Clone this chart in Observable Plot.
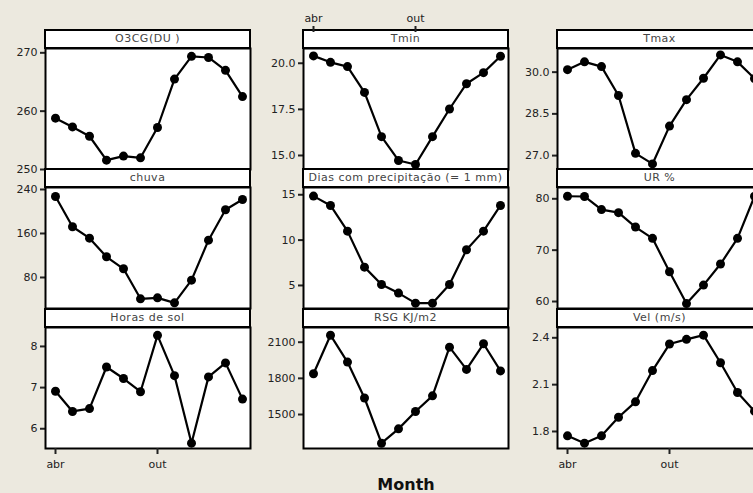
<!DOCTYPE html>
<html><head><meta charset="utf-8">
<script src="https://cdn.jsdelivr.net/npm/d3@7"></script>
<script src="https://cdn.jsdelivr.net/npm/@observablehq/plot@0.6"></script>
<style>
html,body{margin:0;padding:0;background:#ece9df;overflow:hidden;}
#chart{position:relative;width:753px;height:493px;overflow:hidden;font-family:"DejaVu Sans",sans-serif;background:#ece9df;}
.strip{position:absolute;box-sizing:border-box;border:2px solid #000;background:#fff;color:#444;font-size:11px;text-align:center;line-height:16px;letter-spacing:0.5px;white-space:nowrap;overflow:hidden;}
.pnl{position:absolute;}
#xtitle{position:absolute;left:306px;width:200px;top:476px;text-align:center;font-weight:bold;font-size:16px;line-height:18px;color:#111;}
</style></head><body><div id="chart"></div>
<script>
// ---- data ----
const months = ["abr","mai","jun","jul","ago","set","out","nov","dez","jan","fev","mar"];
const xTickLabels = ["abr","out"];
const titles = ["O3CG(DU )","Tmin","Tmax","chuva","Dias com precipitação (= 1 mm)","UR %","Horas de sol","RSG  KJ/m2","Vel (m/s)"];
const o3cg  = [258.8, 257.3, 255.7, 251.6, 252.3, 252.0, 257.2, 265.5, 269.4, 269.2, 267.0, 262.5];
const tmin  = [20.40, 20.05, 19.82, 18.42, 16.02, 14.73, 14.51, 16.02, 17.52, 18.89, 19.49, 20.38];
const tmax  = [30.09, 30.37, 30.20, 29.16, 27.08, 26.70, 28.06, 29.01, 29.78, 30.62, 30.37, 29.77];
const chuva = [227.3, 172.2, 151.5, 117.6, 95.8, 41.2, 43.0, 33.9, 75.1, 147.8, 203.1, 221.8];
const dias  = [14.85, 13.82, 10.99, 7.02, 5.11, 4.16, 3.05, 3.05, 5.11, 8.94, 10.99, 13.82];
const ur    = [80.5, 80.45, 77.9, 77.3, 74.5, 72.3, 65.8, 59.6, 63.2, 67.3, 72.3, 80.5];
const horas = [6.91, 6.42, 6.49, 7.50, 7.22, 6.90, 8.27, 7.29, 5.65, 7.26, 7.60, 6.72];
const rsg   = [1838, 2158, 1935, 1637, 1262, 1381, 1525, 1655, 2059, 1874, 2087, 1862];
const vel   = [1.772, 1.725, 1.772, 1.891, 1.99, 2.19, 2.36, 2.39, 2.417, 2.24, 2.05, 1.93];
const yTicks = [[250,260,270],[15,17.5,20],[27,28.5,30],[80,160,240],[5,10,15],[60,70,80],[6,7,8],[1500,1800,2100],[1.8,2.1,2.4]];

// ---- scale settings ----
const series = [o3cg, tmin, tmax, chuva, dias, ur, horas, rsg, vel];
const yDomains = [[250,270.74],[14.24,20.8],[26.5,30.85],[23.6,243.6],[2.46,15.8],[58.64,82.2],[5.52,8.46],[1218,2222],[1.691,2.466]];
const yFormats = [d3.format("d"), d3.format(".1f"), d3.format(".1f"), d3.format("d"), d3.format("d"), d3.format("d"), d3.format("d"), d3.format("d"), d3.format(".1f")];

const colLeft = [45, 303, 557], rowTop = [30, 169, 309];
const stripH = 18, plotH = 121, panelW = 205;
const chart = document.getElementById("chart");
const mL = 45, mR = 6, mT = 6;
const xOpts = {type:"point", domain:months, padding:0, insetLeft:5, insetRight:3};
const style = {background:"transparent", overflow:"visible", fontFamily:"DejaVu Sans", fontSize:"11px", color:"#222"};

for (let i = 0; i < 9; i++) {
  const row = Math.floor(i/3), col = i % 3;
  const data = months.map((m, k) => ({month:m, value:series[i][k]}));
  const bottomAxis = row === 2 && col !== 1;
  const mB = bottomAxis ? 30 : 6;
  const marks = [
    Plot.frame({fill:"white"}),
    Plot.axisY({ticks:yTicks[i], tickFormat:yFormats[i], tickSize:5, tickPadding:3, strokeWidth:2, label:null}),
    Plot.line(data, {x:"month", y:"value", stroke:"black", strokeWidth:2.2}),
    Plot.dot(data, {x:"month", y:"value", r:4.5, fill:"black"}),
    Plot.frame({stroke:"black", strokeWidth:2})
  ];
  if (bottomAxis) marks.push(Plot.axisX({ticks:xTickLabels, tickSize:6, tickPadding:6, strokeWidth:2, label:null}));
  const svg = Plot.plot({
    width: mL + panelW + mR, height: mT + plotH + mB,
    marginLeft:mL, marginRight:mR, marginTop:mT, marginBottom:mB,
    style,
    x: bottomAxis ? xOpts : {...xOpts, axis:null},
    y: {domain:yDomains[i]},
    marks
  });
  svg.classList.add("pnl");
  svg.style.left = (colLeft[col] - mL) + "px";
  svg.style.top = (rowTop[row] + stripH - mT) + "px";
  chart.appendChild(svg);

  const s = document.createElement("div");
  s.className = "strip";
  s.style.left = (colLeft[col] - 1) + "px";
  s.style.top = (rowTop[row] - 1) + "px";
  s.style.width = (panelW + 2) + "px";
  s.style.height = (stripH + 2) + "px";
  s.textContent = titles[i];
  chart.appendChild(s);
}

// top axis for middle column
const topAxis = Plot.plot({
  width: mL + panelW + mR, height: 33,
  marginLeft:mL, marginRight:mR, marginTop:31, marginBottom:2,
  style,
  x: xOpts,
  marks: [Plot.axisX({anchor:"top", ticks:xTickLabels, tickSize:6, tickPadding:4, strokeWidth:2, label:null})]
});
topAxis.classList.add("pnl");
topAxis.style.left = (colLeft[1] - mL) + "px";
topAxis.style.top = "0px";
chart.appendChild(topAxis);

const t = document.createElement("div");
t.id = "xtitle";
t.textContent = "Month";
chart.appendChild(t);
</script>
</body></html>
